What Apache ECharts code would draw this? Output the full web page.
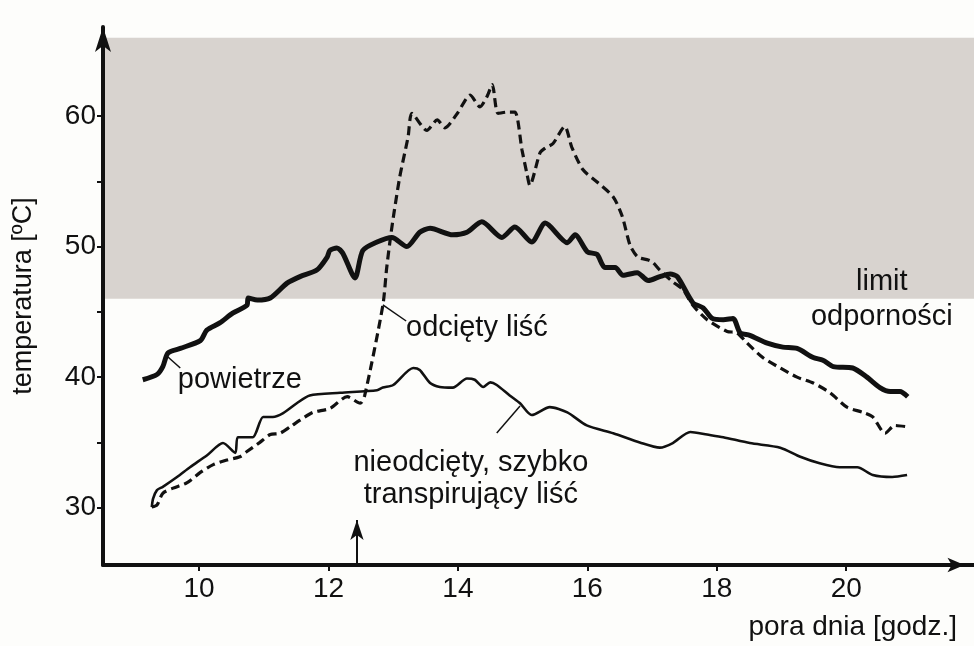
<!DOCTYPE html>
<html>
<head>
<meta charset="utf-8">
<script src="https://cdn.jsdelivr.net/npm/echarts@6/dist/echarts.min.js"></script>
<style>
  html, body { margin: 0; padding: 0; background: #fdfdfb; }
  #chart { width: 974px; height: 646px; }
</style>
</head>
<body>
<div id="chart"></div>
<script>
// [godzina, temperatura]
var powietrze = [
  [9.13, 39.8], [9.35, 40.2], [9.44, 40.8], [9.52, 41.85], [9.71, 42.2], [10.02, 42.8],
  [10.12, 43.6], [10.32, 44.15], [10.52, 44.9], [10.74, 45.5], [10.76, 46.06], [10.9, 45.9],
  [11.1, 46.06], [11.36, 47.2], [11.56, 47.7], [11.82, 48.2], [11.98, 49.2], [12.02, 49.7],
  [12.13, 49.9], [12.22, 49.5], [12.41, 47.6], [12.53, 49.7], [12.75, 50.35], [12.98, 50.7],
  [13.21, 50.0], [13.41, 51.1], [13.57, 51.4], [13.92, 50.9], [14.14, 51.1], [14.37, 51.9],
  [14.68, 50.7], [14.88, 51.5], [15.14, 50.35], [15.35, 51.8], [15.69, 50.3], [15.81, 50.9],
  [16.0, 49.6], [16.15, 49.4], [16.27, 48.4], [16.43, 48.4], [16.55, 47.8], [16.77, 48.0],
  [16.94, 47.4], [17.12, 47.7], [17.28, 47.9], [17.39, 47.7], [17.63, 45.7], [17.79, 45.3],
  [17.93, 44.5], [18.1, 44.4], [18.25, 44.5], [18.36, 43.4], [18.51, 43.2], [18.78, 42.6],
  [19.02, 42.3], [19.24, 42.2], [19.49, 41.5], [19.64, 41.3], [19.8, 40.8], [20.1, 40.7],
  [20.32, 40.0], [20.52, 39.2], [20.68, 38.9], [20.83, 38.9], [20.95, 38.5]
];

var odcietyLisc = [
  [9.27, 30.05], [9.35, 30.2], [9.44, 31.1], [9.6, 31.5], [9.81, 31.9], [10.02, 32.7],
  [10.22, 33.3], [10.43, 33.65], [10.63, 33.9], [10.74, 34.3], [10.94, 35.0], [11.1, 35.6],
  [11.25, 35.7], [11.41, 36.2], [11.56, 36.7], [11.76, 37.3], [12.02, 37.6], [12.29, 38.5],
  [12.49, 38.0], [12.56, 38.6], [12.84, 45.5], [12.9, 48.4], [12.98, 51.5], [13.1, 55.3],
  [13.23, 58.4], [13.29, 60.2], [13.52, 58.9], [13.68, 59.7], [13.8, 59.1], [13.99, 60.2],
  [14.19, 61.6], [14.34, 60.7], [14.45, 61.5], [14.53, 62.4], [14.62, 60.2], [14.76, 60.3],
  [14.88, 60.3], [14.99, 57.4], [15.07, 55.5], [15.11, 54.7], [15.27, 57.2], [15.35, 57.55],
  [15.47, 57.9], [15.65, 59.2], [15.76, 57.6], [15.93, 55.9], [16.15, 54.95], [16.4, 53.8],
  [16.54, 52.3], [16.66, 50.1], [16.78, 49.2], [16.94, 48.97], [17.01, 48.8], [17.12, 48.2],
  [17.32, 47.3], [17.48, 46.7], [17.63, 45.5], [17.85, 44.4], [18.16, 43.5], [18.31, 43.4],
  [18.47, 42.6], [18.71, 41.5], [18.98, 40.7], [19.24, 40.0], [19.49, 39.55], [19.75, 38.8],
  [20.01, 37.7], [20.26, 37.3], [20.41, 36.95], [20.6, 35.7], [20.75, 36.3], [20.94, 36.2]
];

var nieodcietyLisc = [
  [9.27, 30.05], [9.29, 30.7], [9.35, 31.35], [9.44, 31.6], [9.66, 32.35], [9.86, 33.1],
  [10.12, 34.0], [10.37, 34.95], [10.56, 34.2], [10.6, 35.4], [10.83, 35.4], [10.99, 36.95],
  [11.14, 36.95], [11.3, 37.25], [11.51, 38.0], [11.71, 38.6], [12.18, 38.8], [12.75, 39.0],
  [12.84, 39.2], [13.0, 39.4], [13.31, 40.7], [13.41, 40.55], [13.57, 39.55], [13.72, 39.25],
  [13.92, 39.2], [14.14, 39.9], [14.26, 39.8], [14.39, 39.25], [14.5, 39.6], [14.6, 39.4],
  [14.8, 38.6], [14.96, 38.0], [15.14, 37.1], [15.42, 37.7], [15.69, 37.3], [15.99, 36.3],
  [16.4, 35.7], [16.81, 35.0], [17.12, 34.6], [17.32, 34.95], [17.59, 35.8], [17.85, 35.6],
  [18.1, 35.4], [18.51, 34.95], [18.98, 34.6], [19.29, 33.9], [19.59, 33.4], [19.9, 33.1],
  [20.17, 33.1], [20.41, 32.5], [20.71, 32.35], [20.94, 32.5]
];

var xTicks = [10, 12, 14, 16, 18, 20];
var yTicks = [30, 35, 40, 45, 50, 55, 60];
var yLabels = [30, 40, 50, 60];
var limitOdpornosci = [46, 66];
var godzinaCiecia = 12.44;

var xMin = 8.516, xMax = 21.974;
var yMin = 25.61, yMax = 66.82;

var font = "'Liberation Sans', Arial, sans-serif";
var ink = '#111111';

var chart = echarts.init(document.getElementById('chart'));

var option = {
  animation: false,
  backgroundColor: '#fdfdfb',
  title: {
    text: 'pora dnia [godz.]',
    right: 17,
    top: 613,
    padding: 0,
    textStyle: { color: ink, fontFamily: font, fontSize: 28, fontWeight: 'normal' }
  },
  grid: { left: 103, right: 0, top: 27, bottom: 81 },
  xAxis: {
    type: 'value',
    min: xMin,
    max: xMax,
    z: 10,
    splitLine: { show: false },
    axisLine: {
      lineStyle: { color: ink, width: 4 },
      symbol: ['none', 'arrow'],
      symbolSize: [11, 17],
      symbolOffset: [0, -9.5]
    },
    axisTick: { customValues: xTicks, length: 6, lineStyle: { color: ink, width: 2 } },
    axisLabel: {
      customValues: xTicks,
      margin: 10,
      color: ink,
      fontFamily: font,
      fontSize: 28
    }
  },
  yAxis: {
    type: 'value',
    min: yMin,
    max: yMax,
    z: 10,
    name: 'temperatura [ºC]',
    nameLocation: 'middle',
    nameGap: 66,
    nameTextStyle: { color: ink, fontFamily: font, fontSize: 27 },
    splitLine: { show: false },
    axisLine: {
      lineStyle: { color: ink, width: 4 },
      symbol: ['none', 'arrow'],
      symbolSize: [12, 25]
    },
    axisTick: { customValues: yTicks, length: 6, lineStyle: { color: ink, width: 2 } },
    axisLabel: {
      customValues: yLabels,
      margin: 7,
      color: ink,
      fontFamily: font,
      fontSize: 28
    }
  },
  series: [
    {
      name: 'powietrze',
      type: 'line',
      data: powietrze,
      showSymbol: false,
      smooth: 0.25,
      z: 5,
      lineStyle: { color: ink, width: 5 },
      markArea: {
        silent: true,
        itemStyle: { color: '#d8d3cf' },
        data: [[{ coord: [xMin, limitOdpornosci[0]] }, { coord: [xMax, limitOdpornosci[1]] }]]
      }
    },
    {
      name: 'odcięty liść',
      type: 'line',
      data: odcietyLisc,
      showSymbol: false,
      smooth: 0.25,
      z: 4,
      lineStyle: { color: ink, width: 3.2, type: [9, 5] }
    },
    {
      name: 'nieodcięty, szybko transpirujący liść',
      type: 'line',
      data: nieodcietyLisc,
      showSymbol: false,
      smooth: 0.25,
      z: 4,
      lineStyle: { color: ink, width: 2.6 }
    },
    {
      // podpisy i odnośniki
      name: 'opisy',
      type: 'scatter',
      symbolSize: 0,
      silent: true,
      z: 6,
      itemStyle: { opacity: 1 },
      label: {
        show: true,
        position: 'inside',
        color: ink,
        fontFamily: font,
        fontSize: 29,
        formatter: function (p) { return p.name; }
      },
      data: [
        { name: 'powietrze', value: [10.63, 39.78] },
        { name: 'odcięty liść', value: [13.198, 43.76], label: { align: 'left' } },
        { name: 'nieodcięty, szybko\ntranspirujący liść', value: [14.2, 32.2], label: { lineHeight: 32, align: 'center' } },
        { name: 'limit\nodporności', value: [20.55, 45.91], label: { lineHeight: 35, align: 'center' } }
      ],
      markLine: {
        silent: true,
        symbol: 'none',
        label: { show: false },
        lineStyle: { color: ink, width: 1.5, type: 'solid', opacity: 1 },
        data: [
          [{ coord: [9.52, 41.54] }, { coord: [9.71, 40.7] }],
          [{ coord: [12.84, 45.53] }, { coord: [13.2, 44.3] }],
          [{ coord: [14.6, 35.72] }, { coord: [14.96, 37.79] }],
          [
            { coord: [godzinaCiecia, yMin], symbol: 'none' },
            { coord: [godzinaCiecia, 29.06], symbol: 'arrow', symbolSize: [10, 20], lineStyle: { width: 2 } }
          ]
        ]
      }
    }
  ]
};

chart.setOption(option);
</script>
</body>
</html>
